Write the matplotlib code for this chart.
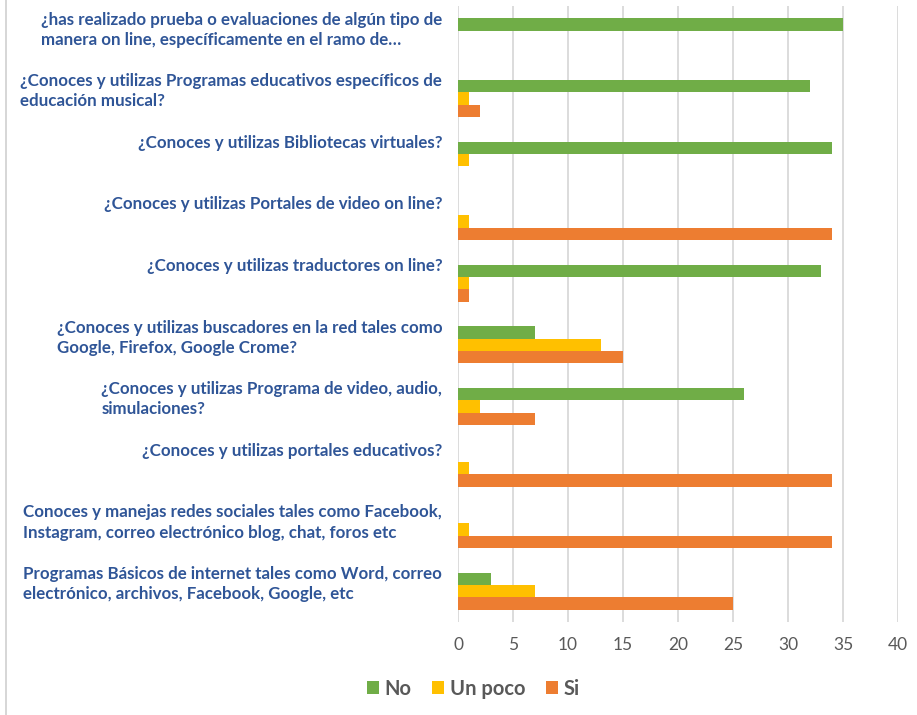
import numpy as np
import matplotlib.pyplot as plt
import matplotlib.transforms as mtransforms
from matplotlib.lines import Line2D

# preguntas (de arriba hacia abajo)
categorias = [
    "¿has realizado prueba o evaluaciones de algún tipo de\nmanera on line, específicamente en el ramo de…",
    "¿Conoces y utilizas Programas educativos específicos de\neducación musical?",
    "¿Conoces y utilizas Bibliotecas virtuales?",
    "¿Conoces y utilizas Portales de video on line?",
    "¿Conoces y utilizas traductores on line?",
    "¿Conoces y utilizas buscadores en la red tales como\nGoogle, Firefox, Google Crome?",
    "¿Conoces y utilizas Programa de video, audio,\nsimulaciones?",
    "¿Conoces y utilizas portales educativos?",
    "Conoces y manejas redes sociales tales como Facebook,\nInstagram, correo electrónico blog, chat, foros etc",
    "Programas Básicos de internet tales como Word, correo\nelectrónico, archivos, Facebook, Google, etc",
]
no_vals = [35, 32, 34, 0, 33, 7, 26, 0, 0, 3]
poco_vals = [0, 1, 1, 1, 1, 13, 2, 1, 1, 7]
si_vals = [0, 2, 0, 34, 1, 15, 7, 34, 34, 25]
series = ["No", "Un poco", "Si"]
colores = ["#70AD47", "#FFC000", "#ED7D31"]
xticks = [0, 5, 10, 15, 20, 25, 30, 35, 40]

plt.rcParams['font.family'] = ['Lato', 'DejaVu Sans']

fig = plt.figure(figsize=(9.17, 7.15), dpi=100)
ax = fig.add_axes([0.4995, 0.130, 0.4798, 0.8616])

y = np.arange(len(categorias))
h = 0.2
for k, (vals, nombre, col) in enumerate(zip([no_vals, poco_vals, si_vals], series, colores)):
    ax.barh(y + (k - 1) * h, vals, height=h, color=col, label=nombre)

ax.set_xlim(0, 40)
ax.set_ylim(len(categorias) - 0.5, -0.5)
ax.set_xticks(xticks)
ax.set_yticks([])
ax.tick_params(axis='x', length=0, pad=11, labelsize=12.5, labelcolor='#595959')
ax.grid(axis='x', color='#D9D9D9', linewidth=1.3)
ax.set_axisbelow(True)
for s in ax.spines.values():
    s.set_visible(False)

trans = mtransforms.blended_transform_factory(ax.transAxes, ax.transData)
for i, lab in enumerate(categorias):
    ax.text(-0.036, i - 0.5 + 0.09, lab, transform=trans, ha='right', va='top',
            multialignment='left', fontsize=12.2, fontweight='bold',
            color='#2F5597', linespacing=1.33)

leg = ax.legend(loc='center', bbox_to_anchor=(0.516, 0.037), bbox_transform=fig.transFigure,
                ncol=3, frameon=False, fontsize=14.5, handlelength=0.6, handleheight=0.6,
                handletextpad=0.3, columnspacing=1.0)
for t in leg.get_texts():
    t.set_color('#595959')
    t.set_fontweight('bold')

# borde gris a la izquierda
fig.add_artist(Line2D([0.006, 0.006], [0, 1], color='#D0D0D0', linewidth=1.2))

fig.savefig('out.png', dpi=100)
